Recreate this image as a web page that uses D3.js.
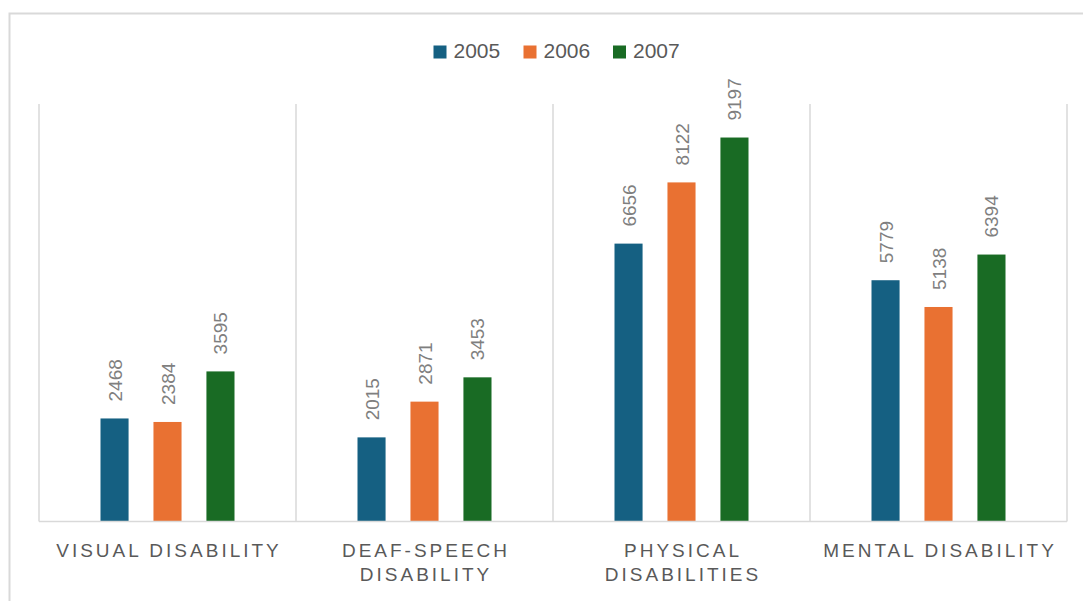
<!DOCTYPE html>
<html><head><meta charset="utf-8">
<script src="https://cdn.jsdelivr.net/npm/d3@7/dist/d3.min.js"></script>
<style>
html,body{margin:0;padding:0;background:#fff;overflow:hidden}
svg{display:block}
text{font-family:"Liberation Sans",Arial,sans-serif}
</style></head><body>
<script>
const categories = [["VISUAL DISABILITY"], ["DEAF-SPEECH", "DISABILITY"], ["PHYSICAL", "DISABILITIES"], ["MENTAL DISABILITY"]];
const seriesNames = ["2005", "2006", "2007"];
const values2005 = [2468, 2015, 6656, 5779];
const values2006 = [2384, 2871, 8122, 5138];
const values2007 = [3595, 3453, 9197, 6394];
const colors = ["#156082", "#E97132", "#196B24"];
const yMax = 10000;

(function () {
const W = 1083, H = 601;
const svg = d3.select("body").append("svg").attr("width", W).attr("height", H);

// outer frame
svg.append("rect").attr("x", 9.5).attr("y", 13.5).attr("width", 1200).attr("height", 800)
  .attr("fill", "none").attr("stroke", "#d9d9d9").attr("stroke-width", 2);

const pLeft = 39, pRight = 1067, pTop = 104, pBottom = 521.5;
const x0 = d3.scaleBand().domain(d3.range(categories.length)).range([pLeft, pRight]).padding(0);
const x1 = d3.scaleBand().domain(seriesNames).range([0, 134]).paddingInner(0.47).paddingOuter(0);
const y = d3.scaleLinear().domain([0, yMax]).range([pBottom, pTop]);

// separators
const seps = d3.range(categories.length + 1).map(i => i < categories.length ? x0(i) : pRight);
svg.selectAll("line.sep").data(seps).enter().append("line")
  .attr("x1", d => d).attr("x2", d => d).attr("y1", y(yMax)).attr("y2", pBottom)
  .attr("stroke", "#d9d9d9").attr("stroke-width", 1.5);

const series = [values2005, values2006, values2007];
series.forEach((vals, si) => {
  const g = svg.append("g");
  vals.forEach((v, ci) => {
    const bx = x0(ci) + (x0.bandwidth() - 134) / 2 + x1(seriesNames[si]);
    g.append("rect").attr("x", bx).attr("y", y(v)).attr("width", x1.bandwidth())
      .attr("height", y(0) - y(v)).attr("fill", colors[si]);
    const cx = bx + x1.bandwidth() / 2;
    g.append("text").attr("transform", `translate(${cx + 7},${y(v) - 17}) rotate(-90)`)
      .attr("text-anchor", "start").attr("font-size", 19).attr("fill", "#7f7f7f")
      .text(v);
  });
});

// baseline
svg.append("line").attr("x1", pLeft).attr("x2", pRight).attr("y1", pBottom).attr("y2", pBottom)
  .attr("stroke", "#d9d9d9").attr("stroke-width", 1.5);

// category labels
categories.forEach((lines, ci) => {
  const cx = x0(ci) + x0.bandwidth() / 2;
  const t = svg.append("text").attr("text-anchor", "middle").attr("font-size", 19)
    .attr("fill", "#595959").attr("letter-spacing", 3);
  lines.forEach((ln, li) => {
    t.append("tspan").attr("x", cx + 1.5).attr("y", 556.5 + li * 24).text(ln);
  });
});

// legend
const legendX = [433.5, 523.5, 613];
seriesNames.forEach((s, i) => {
  svg.append("rect").attr("x", legendX[i]).attr("y", 45.5).attr("width", 13).attr("height", 13).attr("fill", colors[i]);
  svg.append("text").attr("x", legendX[i] + 20).attr("y", 57.5).attr("font-size", 21)
    .attr("fill", "#595959").text(s);
});
})();
</script>
</body></html>
